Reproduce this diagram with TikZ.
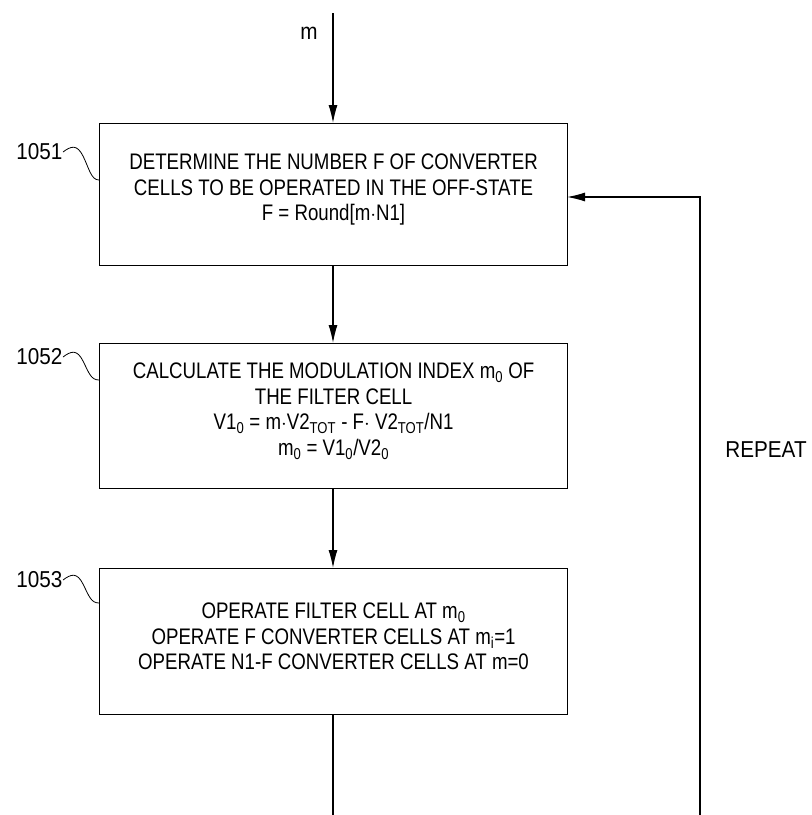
\documentclass[tikz,border=0pt]{standalone}
\usepackage{fontspec}
\setmainfont{Liberation Sans}
\newfontfamily\boxfont[FakeStretch=0.83]{Liberation Sans}
\newfontfamily\lblfont[FakeStretch=0.9]{Liberation Sans}
\usetikzlibrary{arrows.meta}
\begin{document}
\begin{tikzpicture}[x=1pt,y=-1pt,
  line width=1.1pt,
  stepbox/.style={draw, minimum width=468pt, anchor=north west, inner sep=0pt},
  steptext/.style={inner sep=0pt, align=center, yshift=5pt,
    font=\boxfont\fontsize{22.5}{25.5}\selectfont},
  arr/.style={-{Latex[length=18pt,width=9pt]}},
  lbl/.style={font=\lblfont\fontsize{23}{24}\selectfont, inner sep=0pt}]
\useasboundingbox (0,0) rectangle (812,815);
\node[stepbox, minimum height=142pt] (b1) at (99,123) {};
\node[stepbox, minimum height=145pt] (b2) at (99,343) {};
\node[stepbox, minimum height=146pt] (b3) at (99,568) {};
\node[steptext] (t1) at (b1.center) {DETERMINE THE NUMBER F OF CONVERTER\\CELLS TO BE OPERATED IN THE OFF-STATE\\F = Round[m$\cdot$N1]};
\node[steptext] (t2) at (b2.center) {CALCULATE THE MODULATION INDEX m\textsubscript{0} OF\\THE FILTER CELL\\V1\textsubscript{0} = m$\cdot$V2\textsubscript{TOT} - F$\cdot$ V2\textsubscript{TOT}/N1\\m\textsubscript{0} = V1\textsubscript{0}/V2\textsubscript{0}};
\node[steptext] (t3) at (b3.center) {OPERATE FILTER CELL AT m\textsubscript{0}\\OPERATE F CONVERTER CELLS AT m\textsubscript{i}=1\\OPERATE N1-F CONVERTER CELLS AT m=0};
\coordinate (in) at (333,13);
\coordinate (out) at (333,815);
\coordinate (rb) at (700,815);
\coordinate (rt) at (700,197);
\coordinate (b1r) at (567,197);
\node[lbl] (m) at (309,33) {m};
\draw[arr] (in) -- (in |- b1.north);
\draw[arr] (in |- b1.south) -- (in |- b2.north);
\draw[arr] (in |- b2.south) -- (in |- b3.north);
\draw (in |- b3.south) -- (out);
\draw[arr] (rb) -- (rt) -- (b1r);
\node[lbl] (rep) at (766,450) {REPEAT};
\node[lbl, anchor=east] (l1) at (63,152) {1051};
\node[lbl, anchor=east] (l2) at (63,357) {1052};
\node[lbl, anchor=east] (l3) at (63,580) {1053};
\draw[line width=0.8pt] (l1.east) .. controls +(8,-6) and +(-6,-12) .. +(20,4) .. controls +(6,12) and +(-8,0) .. (b1.west |- 0,180);
\draw[line width=0.8pt] (l2.east) .. controls +(8,-6) and +(-6,-12) .. +(20,4) .. controls +(6,12) and +(-8,0) .. (b2.west |- 0,380);
\draw[line width=0.8pt] (l3.east) .. controls +(8,-6) and +(-6,-12) .. +(20,4) .. controls +(6,12) and +(-8,0) .. (b3.west |- 0,603);
\end{tikzpicture}
\end{document}
